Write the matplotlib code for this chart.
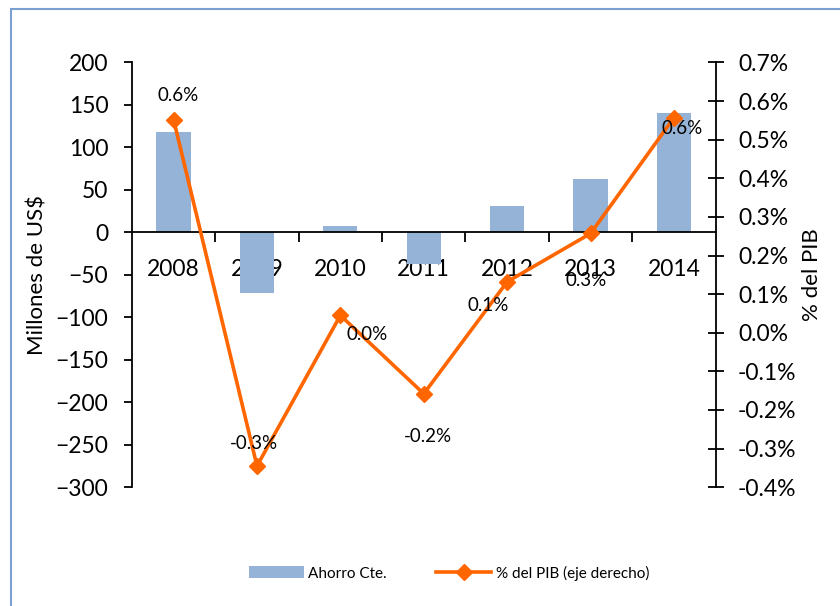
import matplotlib.pyplot as plt
import matplotlib.ticker as mticker
from matplotlib.patches import Rectangle

plt.rcParams["font.family"] = ["Lato", "DejaVu Sans"]

# data
years   = ["2008", "2009", "2010", "2011", "2012", "2013", "2014"]
ahorro  = [118, -71, 8, -37, 31, 63, 141]                      # Millones de US$
pct_pib = [0.552, -0.345, 0.045, -0.158, 0.132, 0.257, 0.557]  # % del PIB

# label offsets in points (dx, dy) relative to each marker
label_off = [(3, 17), (-2, 16), (19, -14), (3, -31), (-14, -17), (-3, -34), (6, -8)]

BAR_COL  = "#95B3D7"
LINE_COL = "#FF6600"

fig = plt.figure(figsize=(8.4, 6.06), dpi=100)
ax = fig.add_axes([0.157, 0.196, 0.695, 0.701])

x = list(range(len(years)))
ax.bar(x, ahorro, width=0.41, color=BAR_COL, zorder=2, label="Ahorro Cte.")
ax.set_xlim(-0.5, len(years) - 0.5)
ax.set_ylim(-300, 200)
ax.set_yticks(range(-300, 201, 50))

for s in ["top", "right"]:
    ax.spines[s].set_visible(False)
ax.spines["bottom"].set_position(("data", 0))
ax.spines["left"].set_linewidth(1.3)
ax.spines["bottom"].set_linewidth(1.3)

ax.set_xticks(x)
ax.set_xticklabels(years, fontsize=16.5)
ax.tick_params(axis="x", which="major", length=0, pad=19)
ax.set_xticks([i + 0.5 for i in x[:-1]], minor=True)
ax.tick_params(axis="x", which="minor", length=7, width=1.3, direction="out")
ax.tick_params(axis="y", length=6, width=1.3, direction="out", pad=11, labelsize=16.5)
ax.set_ylabel("Millones de US$", fontsize=16, labelpad=6)

ax2 = ax.twinx()
ax2.plot(x, pct_pib, color=LINE_COL, lw=2.6, marker="D", ms=8, zorder=5,
         label="% del PIB (eje derecho)")
ax2.set_ylim(-0.4, 0.7)
ax2.set_yticks([i / 10 for i in range(-4, 8)])
ax2.yaxis.set_major_formatter(mticker.FuncFormatter(lambda v, p: f"{v:.1f}%"))
for s in ["top", "left", "bottom"]:
    ax2.spines[s].set_visible(False)
ax2.spines["right"].set_linewidth(1.3)
ax2.tick_params(axis="y", length=12, width=1.3, direction="inout", pad=10, labelsize=16.5)
ax2.set_ylabel("% del PIB", fontsize=16, labelpad=4)

for xi, v, (dx, dy) in zip(x, pct_pib, label_off):
    ax2.annotate(f"{v:.1f}%", (xi, v), xytext=(dx, dy), textcoords="offset points",
                 ha="center", va="center", fontsize=13.5, zorder=6)

h1, l1 = ax.get_legend_handles_labels()
h2, l2 = ax2.get_legend_handles_labels()
fig.legend(h1 + h2, l1 + l2, loc="center", bbox_to_anchor=(449 / 840, 1 - 573 / 606),
           ncol=2, frameon=False, fontsize=11, handlelength=3.6, handleheight=0.8,
           columnspacing=3.2, handletextpad=0.3)

# chart border (cropped on the right and bottom)
fig.patches.append(Rectangle((11 / 840, -0.05), 1.0, 1 - 9 / 606 + 0.05,
                             transform=fig.transFigure, fill=False,
                             edgecolor="#7A9FD0", lw=1.5))

fig.savefig("out.png", dpi=100)
